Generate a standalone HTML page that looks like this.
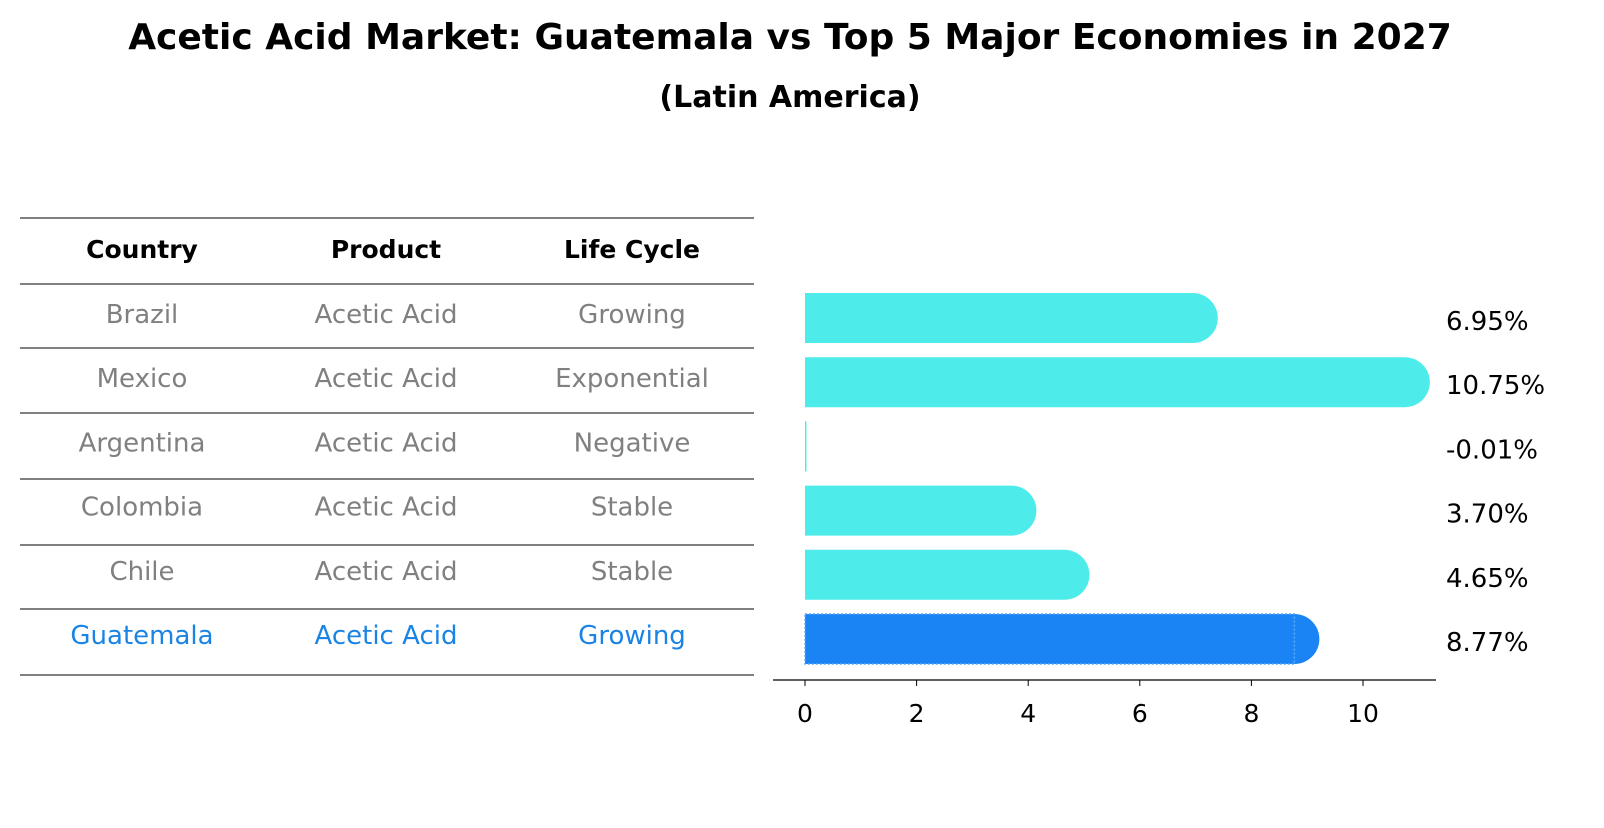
<!DOCTYPE html>
<html><head><meta charset="utf-8"><style>
body{margin:0;background:#fff;font-family:"Liberation Sans","DejaVu Sans",sans-serif}
</style></head><body>
<svg width="1604" height="823" xmlns="http://www.w3.org/2000/svg" font-family="DejaVu Sans, Liberation Sans, sans-serif">
<text x="790" y="49" text-anchor="middle" font-size="36" font-weight="bold">Acetic Acid Market: Guatemala vs Top 5 Major Economies in 2027</text>
<text x="790" y="107" text-anchor="middle" font-size="30" font-weight="bold">(Latin America)</text>
<g id="table"></g>
<g id="chart"></g>
</svg>
<script>
const countries=["Brazil","Mexico","Argentina","Colombia","Chile","Guatemala"];
const products=["Acetic Acid","Acetic Acid","Acetic Acid","Acetic Acid","Acetic Acid","Acetic Acid"];
const cycles=["Growing","Exponential","Negative","Stable","Stable","Growing"];
const values=[6.95,10.75,-0.01,3.70,4.65,8.77];
const ticks=[0,2,4,6,8,10];
const NS="http://www.w3.org/2000/svg";
function mk(t,a,p){const e=document.createElementNS(NS,t);for(const k in a)e.setAttribute(k,a[k]);p.appendChild(e);return e;}
const tb=document.getElementById('table'),ch=document.getElementById('chart');
const lines=[218,284,348,413,479,545,609,675];
lines.forEach(y=>{const l=mk('line',{x1:20,x2:754,y1:y,y2:y,stroke:'#000','stroke-width':1},tb);

});
const colX=[142,386,632];
["Country","Product","Life Cycle"].forEach((h,i)=>{const t=mk('text',{x:colX[i],y:258,'text-anchor':'middle','font-size':25,'font-weight':'bold'},tb);t.textContent=h;

});
const rowY=i=>318+i*64.2;
countries.forEach((c,i)=>{const col=i===5?'#1a84e5':'#808080';
[c,products[i],cycles[i]].forEach((v,j)=>{const t=mk('text',{x:colX[j],y:rowY(i)+5,'text-anchor':'middle','font-size':26,fill:col},tb);t.textContent=v;

});});
const x=v=>805+v*55.8;
const bh=50,r=25;
values.forEach((v,i)=>{const y0=rowY(i)-bh/2;const x1=x(Math.max(v,0));const w=x1-x(0);
const col=i===5?'#1a84f5':'#4deceb';
let d;
if(w>r){d=`M${x(0)},${y0} H${x1} A${r},${r} 0 0 1 ${x1},${y0+bh} H${x(0)} Z`;}
else{d=`M${x(0)},${y0} H${x(0)+1.5} V${y0+bh} H${x(0)} Z`;}
const p=mk('path',{d:d,fill:col},ch);


if(i===5){const b=mk('rect',{x:x(0),y:y0,width:w,height:bh,fill:'none',stroke:'#5aa8f7','stroke-width':1.5,'stroke-dasharray':'2,2'},ch);

}
const t=mk('text',{x:1446,y:rowY(i)+12,'font-size':26},ch);t.textContent=v.toFixed(2)+'%';

});
const ax=mk('line',{x1:773,x2:1436,y1:680,y2:680,stroke:'#000','stroke-width':1.2},ch);


ticks.forEach(tk=>{const l=mk('line',{x1:x(tk),x2:x(tk),y1:680,y2:686,stroke:'#000'},ch);


const t=mk('text',{x:x(tk),y:722,'text-anchor':'middle','font-size':25},ch);t.textContent=tk;

});
</script>
</body></html>
